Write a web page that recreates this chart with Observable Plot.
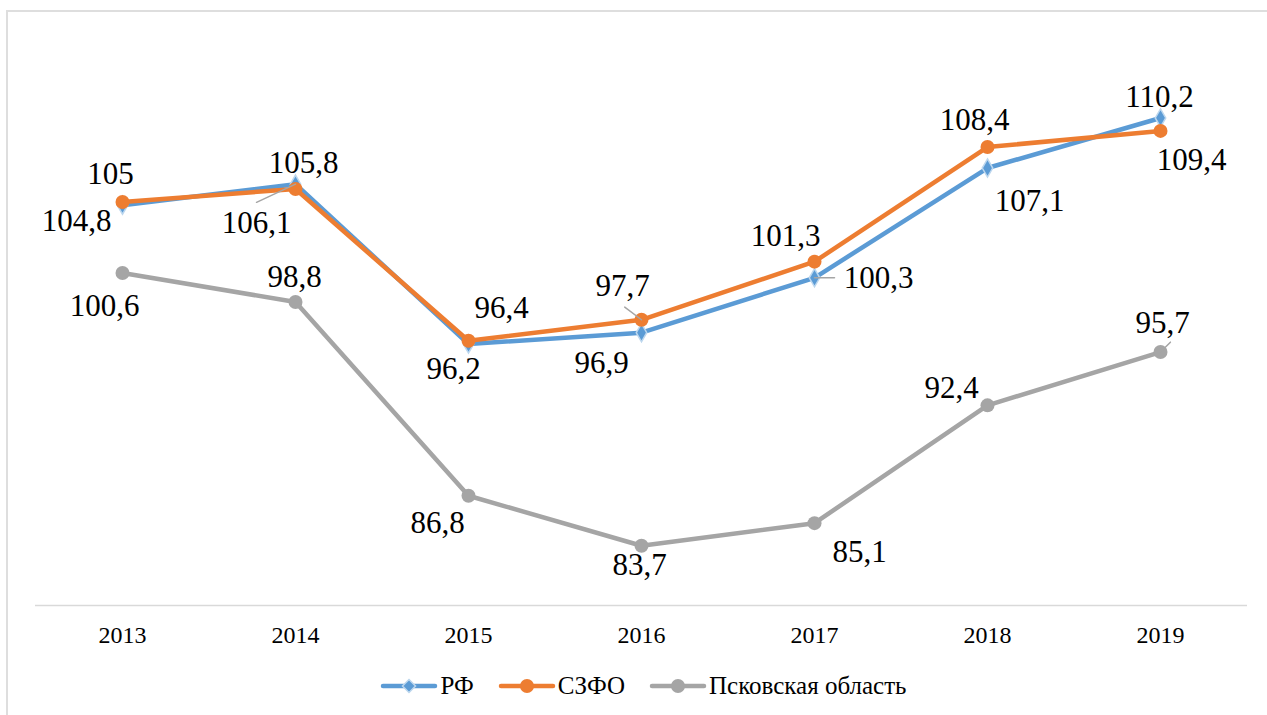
<!DOCTYPE html>
<html><head><meta charset="utf-8">
<script src="https://cdn.jsdelivr.net/npm/d3@7"></script>
<script src="https://cdn.jsdelivr.net/npm/@observablehq/plot@0.6"></script>
<style>
body{margin:0;background:#fff;overflow:hidden;}
#wrap{position:relative;width:1267px;height:715px;overflow:hidden;font-family:'Liberation Serif','Times New Roman',serif;}
#frame{position:absolute;left:6px;top:10px;width:1400px;height:800px;border:2px solid #dedede;}
#chart{position:absolute;left:0;top:0;}
#legend{position:absolute;top:672px;left:10px;width:1267px;height:28px;display:flex;justify-content:center;align-items:center;font-size:25px;color:#000;font-family:'Liberation Serif','Times New Roman',serif;}
.item{display:flex;align-items:center;margin:0 12px;}
.item svg{display:block;margin-right:2px;}
</style></head><body>
<div id="wrap"><div id="frame"></div><div id="chart"></div><div id="legend"></div></div>
<script>
// ---- data ----
const years = ["2013","2014","2015","2016","2017","2018","2019"];
const seriesNames = ["РФ","СЗФО","Псковская область"];
const rfValues = [104.8,106.1,96.2,96.9,100.3,107.1,110.2];
const szfoValues = [105,105.8,96.4,97.7,101.3,108.4,109.4];
const pskovValues = [100.6,98.8,86.8,83.7,85.1,92.4,95.7];
const seriesColors = ["#5B9BD5","#ED7D31","#A5A5A5"];

// label placement (pixel offsets from point to label centre)
const rfLabelOffsets = [[-46,16],[-39,39],[-15,25],[-40,30],[64,0],[42,33],[-1,-21]];
const szfoLabelOffsets = [[-12,-28],[8,-26],[33,-33],[-19,-34],[-29,-26],[-13,-27],[31,29]];
const pskovLabelOffsets = [[-18,33],[-1,-25],[-31,27],[-2,19],[45,29],[-36,-17],[2,-29]];
// leader lines: series index, year index, length(px), angle(deg)
const leaders = [
  {s:0, i:1, len:43, angle:-115},
  {s:1, i:3, len:21, angle:-53},
  {s:0, i:4, len:20, angle:90},
  {s:2, i:6, len:14, angle:45}
];

const valuesBySeries = [rfValues, szfoValues, pskovValues];
const offsetsBySeries = [rfLabelOffsets, szfoLabelOffsets, pskovLabelOffsets];

const rows = [];
seriesNames.forEach((name, s) => {
  valuesBySeries[s].forEach((v, i) => rows.push({series: name, s, i, year: years[i], value: v}));
});
const seriesRows = s => rows.filter(d => d.s === s);
const fmt = v => String(v).replace(".", ",");
const FONT = "'Liberation Serif','Times New Roman',serif";

const lineShape = {draw(context, l) { context.moveTo(0, 0); context.lineTo(0, -l); }};

const marks = [
  Plot.ruleY([80], {stroke: "#d9d9d9", strokeWidth: 1.5}),
  Plot.axisX({tickSize: 0, tickPadding: 20, fontSize: 24, fontFamily: FONT, tickFormat: d => d}),
];
[0, 1, 2].forEach(s => {
  marks.push(Plot.line(seriesRows(s), {x: "year", y: "value", stroke: seriesColors[s], strokeWidth: 4.5, strokeLinejoin: "round", strokeLinecap: "round"}));
  if (s === 0) {
    marks.push(Plot.dot(seriesRows(s), {x: "year", y: "value", symbol: "diamond", r: 5.5, fill: "#5B9BD5", stroke: "#BDD7EE", strokeWidth: 1.5}));
  } else {
    marks.push(Plot.dot(seriesRows(s), {x: "year", y: "value", r: 7, fill: seriesColors[s], stroke: "none"}));
  }
});
leaders.forEach(L => {
  marks.push(Plot.vector(rows.filter(d => d.s === L.s && d.i === L.i), {
    x: "year", y: "value", length: L.len, rotate: L.angle, anchor: "start",
    shape: lineShape, stroke: "#A5A5A5", strokeWidth: 1.5
  }));
});
rows.forEach(d => {
  const [dx, dy] = offsetsBySeries[d.s][d.i];
  marks.push(Plot.text([d], {x: "year", y: "value", text: r => fmt(r.value), dx, dy, fontSize: 31, fontFamily: FONT, fill: "#000", textAnchor: "middle", lineAnchor: "middle"}));
});

const chart = Plot.plot({
  width: 1267, height: 660,
  marginLeft: 35, marginRight: 20, marginTop: 40, marginBottom: 55,
  x: {type: "point", domain: years, padding: 0.5, label: null},
  y: {domain: [80, 115], axis: null},
  style: {fontFamily: FONT, fontSize: "24px", color: "#000", background: "transparent", overflow: "visible"},
  marks
});
document.getElementById("chart").appendChild(chart);

// legend
const legend = document.getElementById("legend");
seriesNames.forEach((name, s) => {
  const item = document.createElement("div");
  item.className = "item";
  const ns = "http://www.w3.org/2000/svg";
  const svg = document.createElementNS(ns, "svg");
  svg.setAttribute("width", 58); svg.setAttribute("height", 20);
  const ln = document.createElementNS(ns, "line");
  ln.setAttribute("x1", 3); ln.setAttribute("x2", 55); ln.setAttribute("y1", 10); ln.setAttribute("y2", 10);
  ln.setAttribute("stroke", seriesColors[s]); ln.setAttribute("stroke-width", 4.5); ln.setAttribute("stroke-linecap", "round");
  svg.appendChild(ln);
  if (s === 0) {
    const p = document.createElementNS(ns, "path");
    p.setAttribute("d", "M29,3.5L35.5,10L29,16.5L22.5,10Z");
    p.setAttribute("fill", "#5B9BD5"); p.setAttribute("stroke", "#BDD7EE"); p.setAttribute("stroke-width", 1.5);
    svg.appendChild(p);
  } else {
    const c = document.createElementNS(ns, "circle");
    c.setAttribute("cx", 29); c.setAttribute("cy", 10); c.setAttribute("r", 7);
    c.setAttribute("fill", seriesColors[s]);
    svg.appendChild(c);
  }
  item.appendChild(svg);
  const t = document.createElement("span");
  t.textContent = name;
  item.appendChild(t);
  legend.appendChild(item);
});
</script>
</body></html>
